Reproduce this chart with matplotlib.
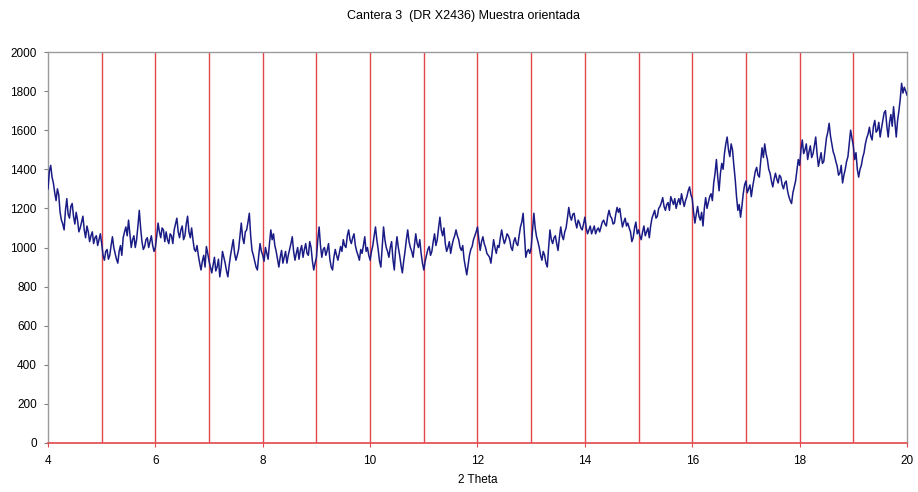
import numpy as np
import matplotlib
matplotlib.use("Agg")
import matplotlib.pyplot as plt

TITLE = "Cantera 3  (DR X2436) Muestra orientada"
XLABEL = "2 Theta"

# 2-theta start/step of the scan, and counts (0.025 deg steps)
THETA_START = 4.0
THETA_STEP = 0.025
counts = [
    1300, 1390, 1420, 1360, 1330, 1280, 1240, 1300, 1270, 1180, 1140, 1120, 1090, 1190, 1250, 1170, 1150, 1210, 1225, 1160,
    1120, 1180, 1140, 1080, 1100, 1130, 1160, 1090, 1050, 1110, 1080, 1030, 1060, 1080, 1020, 1050, 1060, 1010, 1040, 1070,
    1020, 960, 935, 980, 990, 940, 960, 1010, 1055, 1000, 970, 940, 920, 980, 1010, 960, 1050, 1080, 1105, 1060,
    1140, 1070, 1000, 1040, 1060, 1000, 1040, 1110, 1190, 1100, 1030, 990, 1005, 1040, 1050, 1000, 1030, 1060, 1010, 980,
    1000, 1060, 1125, 1080, 1050, 1100, 1090, 1030, 1080, 1040, 1020, 1070, 1060, 1020, 1090, 1120, 1150, 1080, 1050, 1090,
    1110, 1040, 1060, 1120, 1160, 1080, 1050, 1100, 1040, 990, 980, 1010, 960, 920, 885, 930, 960, 900, 1005, 970,
    930, 900, 870, 910, 950, 880, 900, 940, 850, 900, 980, 950, 920, 880, 850, 910, 960, 1000, 1040, 970,
    935, 960, 990, 1060, 1125, 1050, 1020, 1080, 1090, 1130, 1175, 1060, 985, 960, 930, 900, 885, 960, 1020, 980,
    960, 930, 1000, 970, 940, 1020, 1090, 1040, 1070, 1010, 980, 940, 900, 950, 985, 920, 950, 980, 920, 960,
    990, 1020, 1055, 980, 935, 970, 1000, 940, 985, 1010, 950, 990, 1020, 970, 960, 1030, 1000, 930, 885, 920,
    950, 1040, 1105, 1010, 950, 990, 1000, 960, 985, 1020, 940, 900, 885, 950, 990, 960, 935, 970, 1005, 980,
    1040, 1010, 1000, 1060, 1090, 1040, 1020, 1050, 1070, 1010, 980, 960, 935, 990, 970, 1010, 1055, 980, 1000, 960,
    935, 980, 1010, 1060, 1105, 1040, 990, 930, 900, 1000, 1105, 1040, 1000, 980, 950, 1000, 1030, 940, 885, 990,
    1055, 1000, 960, 910, 870, 930, 980, 1040, 1090, 1030, 1000, 980, 950, 1010, 1070, 1020, 1000, 1040, 970, 920,
    885, 930, 960, 990, 1005, 960, 980, 1030, 1070, 1010, 1040, 1100, 1155, 1090, 1060, 1100, 1020, 980, 1000, 1030,
    970, 1010, 1040, 1060, 1090, 1060, 1040, 1000, 985, 1010, 940, 900, 860, 910, 960, 990, 1005, 1040, 1060, 1080,
    1105, 1040, 985, 1030, 1055, 1020, 1000, 970, 960, 950, 920, 980, 1040, 1000, 970, 1010, 1000, 1050, 1090, 1050,
    1020, 1040, 1070, 1060, 1040, 1000, 985, 1030, 1050, 1020, 1010, 1060, 1105, 1130, 1175, 1060, 950, 980, 990, 970,
    1000, 1090, 1175, 1100, 1055, 1030, 1000, 960, 935, 980, 960, 920, 900, 1000, 1090, 1040, 1020, 1050, 1060, 1020,
    985, 1050, 1105, 1060, 1040, 1080, 1100, 1150, 1205, 1160, 1140, 1170, 1175, 1130, 1100, 1140, 1125, 1100, 1090, 1120,
    1155, 1100, 1070, 1090, 1110, 1070, 1090, 1110, 1070, 1090, 1100, 1080, 1105, 1130, 1140, 1120, 1110, 1160, 1190, 1160,
    1150, 1120, 1125, 1170, 1205, 1180, 1200, 1150, 1105, 1130, 1150, 1110, 1125, 1100, 1080, 1030, 1050, 1100, 1130, 1070,
    1090, 1060, 1040, 1080, 1110, 1060, 1080, 1100, 1050, 1110, 1150, 1170, 1190, 1150, 1160, 1200, 1210, 1230, 1255, 1210,
    1190, 1220, 1230, 1190, 1260, 1240, 1220, 1250, 1200, 1230, 1250, 1220, 1275, 1240, 1210, 1240, 1260, 1290, 1310, 1270,
    1250, 1180, 1125, 1170, 1210, 1160, 1140, 1180, 1110, 1200, 1255, 1200, 1230, 1260, 1275, 1240, 1330, 1380, 1450, 1360,
    1290, 1380, 1430, 1400, 1480, 1530, 1565, 1500, 1465, 1530, 1500, 1420, 1350, 1260, 1190, 1220, 1155, 1210, 1275, 1320,
    1340, 1280, 1300, 1320, 1260, 1310, 1350, 1390, 1410, 1370, 1360, 1440, 1510, 1460, 1530, 1480, 1450, 1400, 1380, 1340,
    1310, 1350, 1380, 1350, 1330, 1370, 1360, 1320, 1300, 1330, 1340, 1290, 1260, 1240, 1225, 1280, 1310, 1340, 1395, 1450,
    1420, 1500, 1550, 1480, 1500, 1530, 1450, 1490, 1520, 1460, 1480, 1520, 1565, 1480, 1415, 1450, 1485, 1430, 1440, 1500,
    1560, 1590, 1635, 1570, 1530, 1490, 1470, 1440, 1415, 1370, 1380, 1420, 1330, 1370, 1400, 1440, 1465, 1530, 1600, 1560,
    1520, 1450, 1485, 1400, 1360, 1400, 1420, 1460, 1485, 1530, 1560, 1580, 1615, 1570, 1550, 1620, 1650, 1590, 1600, 1640,
    1565, 1610, 1650, 1690, 1700, 1620, 1565, 1640, 1680, 1620, 1720, 1640, 1565, 1650, 1700, 1760, 1840, 1790, 1820, 1800,
    1780,
]
two_theta = THETA_START + THETA_STEP * np.arange(len(counts))

x_ticks = [4, 6, 8, 10, 12, 14, 16, 18, 20]
y_ticks = [0, 200, 400, 600, 800, 1000, 1200, 1400, 1600, 1800, 2000]

plt.rcParams["font.family"] = ["Liberation Sans", "DejaVu Sans"]

fig = plt.figure(figsize=(9.18, 4.92), dpi=100)
ax = fig.add_axes([0.0523, 0.0996, 0.9357, 0.7947])

# red vertical grid every degree
for g in range(5, 20):
    ax.axvline(g, color="#e2474b", lw=1.0, zorder=1)

ax.plot(two_theta, counts, color="#1a1c86", lw=1.1, zorder=3)

ax.set_xlim(4, 20)
ax.set_ylim(0, 2000)
ax.set_xticks(x_ticks)
ax.set_yticks(y_ticks)
ax.tick_params(axis="y", labelsize=8.5, length=3, color="#808080", pad=5)
ax.tick_params(axis="x", labelsize=8.5, length=3, color="#e2474b", pad=6)

for side in ["left", "top", "right"]:
    ax.spines[side].set_color("#9a9a9a")
    ax.spines[side].set_linewidth(1.0)
ax.spines["bottom"].set_color("#e2474b")
ax.spines["bottom"].set_linewidth(1.2)

ax.set_xlabel(XLABEL, fontsize=8.5, labelpad=5)
fig.suptitle(TITLE, fontsize=9, x=0.505, y=0.98)

fig.savefig("out.png", dpi=100)
